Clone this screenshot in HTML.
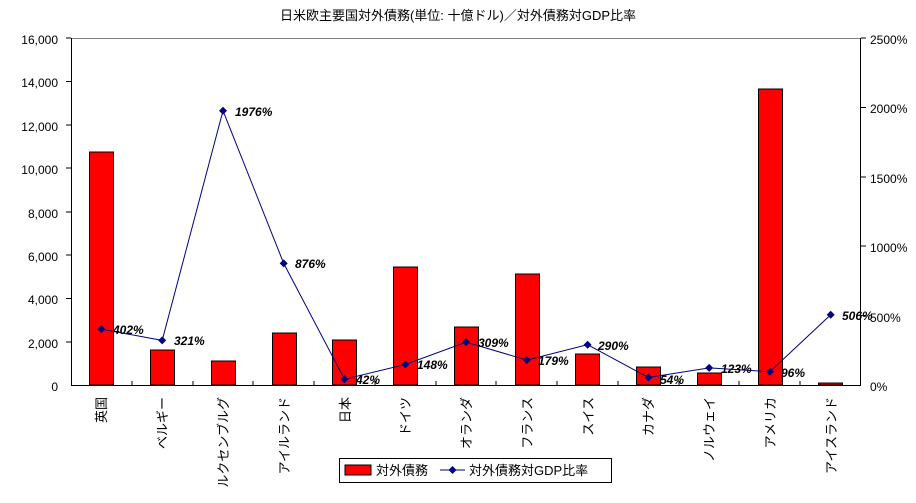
<!DOCTYPE html><html><head><meta charset="utf-8"><style>
body{margin:0;background:#fff;}
svg text{font-family:"Liberation Sans","Noto Sans CJK JP",sans-serif;}
</style></head><body>
<svg width="916" height="498" xmlns="http://www.w3.org/2000/svg">
<rect width="916" height="498" fill="#fff"/>
<text x="458" y="20" font-size="13" text-anchor="middle">日米欧主要国対外債務(単位: 十億ドル)／対外債務対GDP比率</text>
<g font-size="12" text-anchor="end" fill="#000">
<text x="58" y="44">16,000</text><text x="58" y="87">14,000</text><text x="58" y="131">12,000</text><text x="58" y="174">10,000</text><text x="58" y="218">8,000</text><text x="58" y="261">6,000</text><text x="58" y="304">4,000</text><text x="58" y="348">2,000</text><text x="58" y="391">0</text>
</g>
<g font-size="12" fill="#000">
<text x="870" y="44">2500%</text><text x="870" y="113">2000%</text><text x="870" y="183">1500%</text><text x="870" y="252">1000%</text><text x="870" y="322">500%</text><text x="870" y="391">0%</text>
</g>
<g stroke="#000" stroke-width="1">
<line x1="71" y1="38.5" x2="861" y2="38.5" stroke="#808080"/>
<line x1="71.5" y1="38" x2="71.5" y2="385"/>
<line x1="860.5" y1="38" x2="860.5" y2="385"/>
<line x1="71" y1="385.5" x2="861" y2="385.5"/>
</g>
<g fill="#f00" stroke="#000" stroke-width="1">
<rect x="89.5" y="152" width="24" height="233"/>
<rect x="150.5" y="350" width="24" height="35"/>
<rect x="211.5" y="361" width="24" height="24"/>
<rect x="272.5" y="333" width="24" height="52"/>
<rect x="332.5" y="340" width="24" height="45"/>
<rect x="393.5" y="267" width="24" height="118"/>
<rect x="454.5" y="327" width="24" height="58"/>
<rect x="515.5" y="274" width="24" height="111"/>
<rect x="575.5" y="354" width="24" height="31"/>
<rect x="636.5" y="367" width="24" height="18"/>
<rect x="697.5" y="373" width="24" height="12"/>
<rect x="758.5" y="89" width="24" height="296"/>
<rect x="818.5" y="383" width="24" height="2"/>
</g>
<g stroke="#000">
<line x1="71" y1="38" x2="66" y2="38"/><line x1="71" y1="81.5" x2="66" y2="81.5"/><line x1="71" y1="125" x2="66" y2="125"/><line x1="71" y1="168" x2="66" y2="168"/><line x1="71" y1="212" x2="66" y2="212"/><line x1="71" y1="255" x2="66" y2="255"/><line x1="71" y1="298.5" x2="66" y2="298.5"/><line x1="71" y1="342" x2="66" y2="342"/>
<line x1="861" y1="38" x2="866" y2="38"/><line x1="861" y1="107.5" x2="866" y2="107.5"/><line x1="861" y1="177" x2="866" y2="177"/><line x1="861" y1="246" x2="866" y2="246"/><line x1="861" y1="315.5" x2="866" y2="315.5"/>
<line x1="132" y1="385" x2="132" y2="381"/><line x1="193" y1="385" x2="193" y2="381"/><line x1="253" y1="385" x2="253" y2="381"/><line x1="314" y1="385" x2="314" y2="381"/><line x1="375" y1="385" x2="375" y2="381"/><line x1="436" y1="385" x2="436" y2="381"/><line x1="496" y1="385" x2="496" y2="381"/><line x1="557" y1="385" x2="557" y2="381"/><line x1="618" y1="385" x2="618" y2="381"/><line x1="679" y1="385" x2="679" y2="381"/><line x1="739" y1="385" x2="739" y2="381"/><line x1="800" y1="385" x2="800" y2="381"/>
</g>
<polyline fill="none" stroke="#000080" stroke-width="1" points="101.4,329.2 162.2,340.4 223,110.7 283.7,263.4 344.5,379.2 405.3,364.5 466.1,342.1 526.8,360.1 587.6,344.7 648.4,377.5 709.2,367.9 769.9,371.7 830.7,314.8"/>
<g fill="#000080">
<path d="M101.4 325.2l4 4-4 4-4-4z"/><path d="M162.2 336.4l4 4-4 4-4-4z"/><path d="M223 106.7l4 4-4 4-4-4z"/><path d="M283.7 259.4l4 4-4 4-4-4z"/><path d="M344.5 375.2l4 4-4 4-4-4z"/><path d="M405.3 360.5l4 4-4 4-4-4z"/><path d="M466.1 338.1l4 4-4 4-4-4z"/><path d="M526.8 356.1l4 4-4 4-4-4z"/><path d="M587.6 340.7l4 4-4 4-4-4z"/><path d="M648.4 373.5l4 4-4 4-4-4z"/><path d="M709.2 363.9l4 4-4 4-4-4z"/><path d="M769.9 367.7l4 4-4 4-4-4z"/><path d="M830.7 310.8l4 4-4 4-4-4z"/>
</g>
<g font-size="12" font-weight="bold" font-style="italic" fill="#000">
<text x="113" y="334">402%</text><text x="174" y="345">321%</text><text x="235" y="116">1976%</text><text x="295" y="268">876%</text><text x="356" y="384">42%</text><text x="417" y="369">148%</text><text x="478" y="347">309%</text><text x="538" y="365">179%</text><text x="598" y="350">290%</text><text x="660" y="384">54%</text><text x="721" y="373">123%</text><text x="781" y="377">96%</text><text x="842" y="320">506%</text>
</g>
<g font-size="13" fill="#000" text-anchor="end">
<text transform="translate(106,397) rotate(-90)">英国</text>
<text transform="translate(167,397) rotate(-90)">ベルギー</text>
<text transform="translate(228,397) rotate(-90)">ルクセンブルグ</text>
<text transform="translate(289,397) rotate(-90)">アイルランド</text>
<text transform="translate(350,397) rotate(-90)">日本</text>
<text transform="translate(410,397) rotate(-90)">ドイツ</text>
<text transform="translate(471,397) rotate(-90)">オランダ</text>
<text transform="translate(532,397) rotate(-90)">フランス</text>
<text transform="translate(593,397) rotate(-90)">スイス</text>
<text transform="translate(653,397) rotate(-90)">カナダ</text>
<text transform="translate(714,397) rotate(-90)">ノルウェイ</text>
<text transform="translate(775,397) rotate(-90)">アメリカ</text>
<text transform="translate(836,397) rotate(-90)">アイスランド</text>
</g>
<rect x="339.5" y="458.5" width="272" height="24" fill="#fff" stroke="#000"/>
<rect x="345" y="465" width="26" height="10" fill="#f00" stroke="#000"/>
<text x="376" y="475" font-size="13">対外債務</text>
<line x1="440" y1="470" x2="465" y2="470" stroke="#000080"/>
<path d="M452.5 466l4 4-4 4-4-4z" fill="#000080"/>
<text x="469" y="475" font-size="13">対外債務対GDP比率</text>
</svg>
</body></html>
